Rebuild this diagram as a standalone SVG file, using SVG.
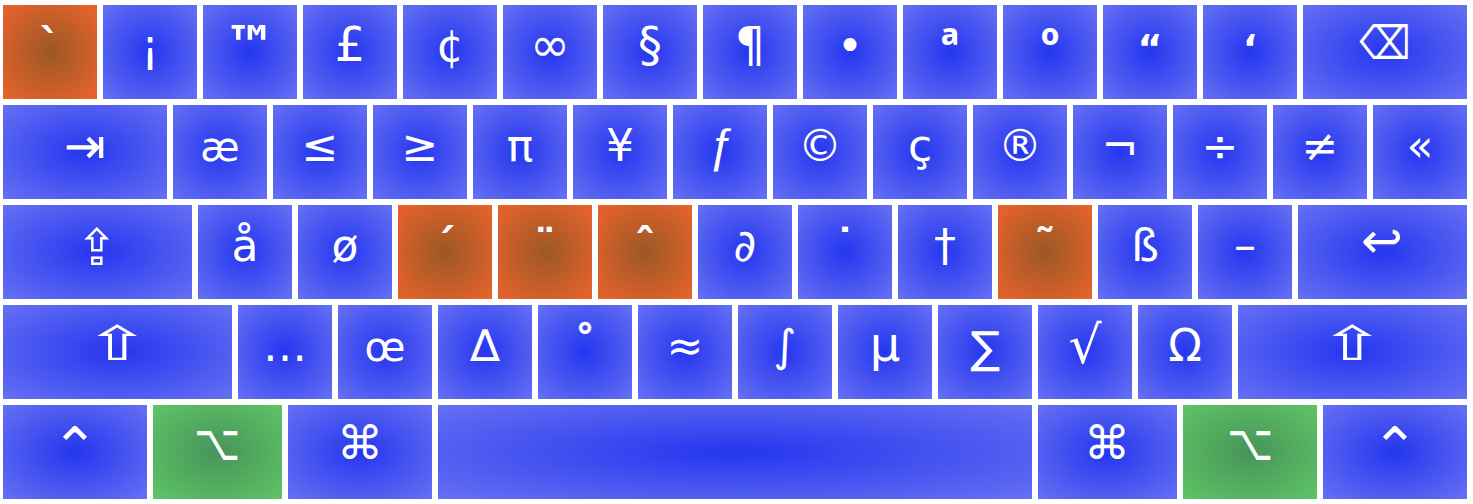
<svg xmlns="http://www.w3.org/2000/svg" width="1473" height="504" viewBox="0 0 1473 504">
<defs>
<radialGradient id="gb" cx="0.5" cy="0.5" r="0.7"><stop offset="0" stop-color="#2536ef"/><stop offset="1" stop-color="#6570f2"/></radialGradient>
<radialGradient id="go" cx="0.5" cy="0.5" r="0.7"><stop offset="0" stop-color="#9c5826"/><stop offset="1" stop-color="#ea632c"/></radialGradient>
<radialGradient id="gg" cx="0.5" cy="0.5" r="0.7"><stop offset="0" stop-color="#479459"/><stop offset="1" stop-color="#5fc466"/></radialGradient>
</defs>
<style>
.b{fill:url(#gb)}.o{fill:url(#go)}.g{fill:url(#gg)}
text{fill:#fff;font-family:"DejaVu Sans","Noto Sans",sans-serif;font-size:44px;text-anchor:middle}
.bd{font-weight:bold}
.sm{font-size:40px}
.lg{font-size:48px}
.ord{font-family:"Noto Sans",sans-serif;font-weight:bold;font-size:48px}
.fn{font-family:"Liberation Sans",sans-serif;font-style:italic;font-size:46px}
.m{font-size:50px}
.q{font-size:38px;font-weight:bold}
</style>
<rect width="1473" height="504" fill="#fff"/>
<g id="row1">
<g id="k-grave"><rect class="o" x="3" y="5" width="94" height="94"/><text class="bd" x="50" y="61">`</text></g>
<g id="k-iexcl"><rect class="b" x="103" y="5" width="94" height="94"/><text x="150" y="61">¡</text></g>
<g id="k-trade"><rect class="b" x="203" y="5" width="94" height="94"/><text class="bd" x="250" y="63" style="font-size:52px">™</text></g>
<g id="k-pound"><rect class="b" x="303" y="5" width="94" height="94"/><text class="lg" x="350" y="61">£</text></g>
<g id="k-cent"><rect class="b" x="403" y="5" width="94" height="94"/><text x="450" y="61">¢</text></g>
<g id="k-inf"><rect class="b" x="503" y="5" width="94" height="94"/><text class="lg" x="550" y="61">∞</text></g>
<g id="k-sect"><rect class="b" x="603" y="5" width="94" height="94"/><text class="lg" x="650" y="61">§</text></g>
<g id="k-para"><rect class="b" x="703" y="5" width="94" height="94"/><text class="lg" x="750" y="61">¶</text></g>
<g id="k-bull"><rect class="b" x="803" y="5" width="94" height="94"/><text x="850" y="61">•</text></g>
<g id="k-ordf"><rect class="b" x="903" y="5" width="94" height="94"/><text class="ord" x="950" y="63">ª</text></g>
<g id="k-ordm"><rect class="b" x="1003" y="5" width="94" height="94"/><text class="ord" x="1050" y="63">º</text></g>
<g id="k-ldquo"><rect class="b" x="1103" y="5" width="94" height="94"/><text class="q" x="1150" y="61">“</text></g>
<g id="k-lsquo"><rect class="b" x="1203" y="5" width="94" height="94"/><text class="q" x="1250" y="61">‘</text></g>
<g id="k-bksp"><rect class="b" x="1303" y="5" width="164" height="94"/><text class="m" transform="translate(1385,59) scale(0.72,0.92)">⌫</text></g>
</g>
<g id="row2">
<g id="k-tab"><rect class="b" x="3" y="105" width="164" height="94"/><text class="m" x="85" y="163">⇥</text></g>
<g id="k-ae"><rect class="b" x="173" y="105" width="94" height="94"/><text class="sm" x="220" y="161">æ</text></g>
<g id="k-le"><rect class="b" x="273" y="105" width="94" height="94"/><text x="320" y="161">≤</text></g>
<g id="k-ge"><rect class="b" x="373" y="105" width="94" height="94"/><text x="420" y="161">≥</text></g>
<g id="k-pi"><rect class="b" x="473" y="105" width="94" height="94"/><text x="520" y="161">π</text></g>
<g id="k-yen"><rect class="b" x="573" y="105" width="94" height="94"/><text x="620" y="161">¥</text></g>
<g id="k-fnof"><rect class="b" x="673" y="105" width="94" height="94"/><text class="fn" x="720" y="161">ƒ</text></g>
<g id="k-copy"><rect class="b" x="773" y="105" width="94" height="94"/><text x="820" y="161">©</text></g>
<g id="k-ccedil"><rect class="b" x="873" y="105" width="94" height="94"/><text x="920" y="161">ç</text></g>
<g id="k-reg"><rect class="b" x="973" y="105" width="94" height="94"/><text x="1020" y="161">®</text></g>
<g id="k-not"><rect class="b" x="1073" y="105" width="94" height="94"/><text x="1120" y="161">¬</text></g>
<g id="k-divide"><rect class="b" x="1173" y="105" width="94" height="94"/><text x="1220" y="161">÷</text></g>
<g id="k-ne"><rect class="b" x="1273" y="105" width="94" height="94"/><text x="1320" y="161">≠</text></g>
<g id="k-laquo"><rect class="b" x="1373" y="105" width="94" height="94"/><text x="1420" y="161">«</text></g>
</g>
<g id="row3">
<g id="k-caps"><rect class="b" x="3" y="205" width="189" height="94"/><text class="m" x="97" y="265">⇪</text></g>
<g id="k-aring"><rect class="b" x="198" y="205" width="94" height="94"/><text x="245" y="261">å</text></g>
<g id="k-oslash"><rect class="b" x="298" y="205" width="94" height="94"/><text x="345" y="261">ø</text></g>
<g id="k-acute"><rect class="o" x="398" y="205" width="94" height="94"/><text class="bd" x="445" y="261">´</text></g>
<g id="k-uml"><rect class="o" x="498" y="205" width="94" height="94"/><text class="bd" x="545" y="261">¨</text></g>
<g id="k-circ"><rect class="o" x="598" y="205" width="94" height="94"/><text class="bd" x="645" y="261">ˆ</text></g>
<g id="k-part"><rect class="b" x="698" y="205" width="94" height="94"/><text x="745" y="261">∂</text></g>
<g id="k-dot"><rect class="b" x="798" y="205" width="94" height="94"/><text class="bd" x="845" y="261">˙</text></g>
<g id="k-dagger"><rect class="b" x="898" y="205" width="94" height="94"/><text x="945" y="261">†</text></g>
<g id="k-tilde"><rect class="o" x="998" y="205" width="94" height="94"/><text class="bd" x="1045" y="261">˜</text></g>
<g id="k-szlig"><rect class="b" x="1098" y="205" width="94" height="94"/><text x="1145" y="261">ß</text></g>
<g id="k-ndash"><rect class="b" x="1198" y="205" width="94" height="94"/><text x="1245" y="261">–</text></g>
<g id="k-return"><rect class="b" x="1298" y="205" width="169" height="94"/><text class="m" x="1382" y="258">↩</text></g>
</g>
<g id="row4">
<g id="k-lshift"><rect class="b" x="3" y="305" width="229" height="94"/><text class="m" transform="translate(117,360) scale(1.6,0.95)">⇧</text></g>
<g id="k-hellip"><rect class="b" x="238" y="305" width="94" height="94"/><text x="285" y="361">…</text></g>
<g id="k-oelig"><rect class="b" x="338" y="305" width="94" height="94"/><text class="sm" x="385" y="361">œ</text></g>
<g id="k-delta"><rect class="b" x="438" y="305" width="94" height="94"/><text x="485" y="361">∆</text></g>
<g id="k-ring"><rect class="b" x="538" y="305" width="94" height="94"/><text class="bd" x="585" y="361">˚</text></g>
<g id="k-asymp"><rect class="b" x="638" y="305" width="94" height="94"/><text x="685" y="361">≈</text></g>
<g id="k-int"><rect class="b" x="738" y="305" width="94" height="94"/><text x="785" y="361">∫</text></g>
<g id="k-micro"><rect class="b" x="838" y="305" width="94" height="94"/><text class="lg" x="885" y="361">µ</text></g>
<g id="k-sum"><rect class="b" x="938" y="305" width="94" height="94"/><text x="985" y="363">∑</text></g>
<g id="k-radic"><rect class="b" x="1038" y="305" width="94" height="94"/><text style="font-size:52px" x="1085" y="363">√</text></g>
<g id="k-omega"><rect class="b" x="1138" y="305" width="94" height="94"/><text x="1185" y="361">Ω</text></g>
<g id="k-rshift"><rect class="b" x="1238" y="305" width="229" height="94"/><text class="m" transform="translate(1352,360) scale(1.6,0.95)">⇧</text></g>
</g>
<g id="row5">
<g id="k-lctrl"><rect class="b" x="3" y="405" width="144" height="94"/><text style="font-size:56px" x="75" y="467">⌃</text></g>
<g id="k-lopt"><rect class="g" x="153" y="405" width="129" height="94"/><text class="m" transform="translate(217,460) scale(0.8,1)">⌥</text></g>
<g id="k-lcmd"><rect class="b" x="288" y="405" width="144" height="94"/><text style="font-size:46px" x="360" y="459">⌘</text></g>
<g id="k-space"><rect class="b" x="438" y="405" width="594" height="94"/></g>
<g id="k-rcmd"><rect class="b" x="1038" y="405" width="139" height="94"/><text style="font-size:46px" x="1107" y="459">⌘</text></g>
<g id="k-ropt"><rect class="g" x="1183" y="405" width="134" height="94"/><text class="m" transform="translate(1250,460) scale(0.8,1)">⌥</text></g>
<g id="k-rctrl"><rect class="b" x="1323" y="405" width="144" height="94"/><text style="font-size:56px" x="1395" y="467">⌃</text></g>
</g>
<g id="connectors"/>
</svg>
